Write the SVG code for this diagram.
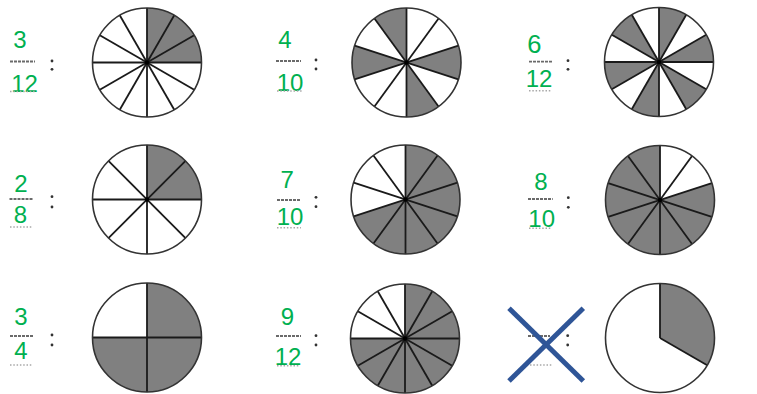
<svg xmlns="http://www.w3.org/2000/svg" xmlns:xlink="http://www.w3.org/1999/xlink" width="757" height="394" viewBox="0 0 757 394">
<style>
.num{font-family:"Liberation Sans",Arial,sans-serif;font-size:24px;fill:#00b050;text-anchor:middle}
.fl{stroke:#6a6a6a;stroke-width:1.8;stroke-dasharray:3 1;fill:none}
.dl{stroke:#a8a8a8;stroke-width:1.4;stroke-dasharray:1.5 1.8;fill:none}
.col{fill:#333}
.bg{fill:#fff}
.sh{fill:#808080}
.rad{stroke:#1a1a1a;stroke-width:1.8;fill:none}
.ring{fill:none;stroke:#333;stroke-width:1.6}
.x{stroke:#2f5597;stroke-width:5;fill:none}
</style>
<defs>
<path id="s30" d="M0,0V-54.5A54.5,54.5 0 0 1 27.25,-47.2Z"/>
<path id="s36" d="M0,0V-54.5A54.5,54.5 0 0 1 32.04,-44.09Z"/>
<path id="s45" d="M0,0V-54.5A54.5,54.5 0 0 1 38.54,-38.54Z"/>
<path id="s90" d="M0,0V-54.5A54.5,54.5 0 0 1 54.5,0Z"/>
<path id="s120" d="M0,0V-54.5A54.5,54.5 0 0 1 47.2,27.25Z"/>
<path id="dia" d="M0,-54.5V54.5"/>
<path id="r1" d="M0,0V-54.5"/>
<circle id="disk" r="54.5"/>
<circle id="hub" r="2.2"/>
</defs>
<rect width="757" height="394" fill="#fff"/>

<g id="cell-r1c1">
<text class="num" x="20" y="48.3">3</text>
<line class="fl" x1="10" y1="61.5" x2="35" y2="61.5"/>
<text class="num" x="24.5" y="91.7">12</text>
<line class="dl" x1="10" y1="91.5" x2="35" y2="91.5"/>
<circle class="col" cx="52" cy="61" r="1.4"/><circle class="col" cx="52" cy="69.3" r="1.4"/>
<g transform="translate(147,62.5)">
<use xlink:href="#disk" class="bg"/>
<use xlink:href="#s90" class="sh"/>
<use xlink:href="#dia" class="rad"/><use xlink:href="#dia" class="rad" transform="rotate(30)"/><use xlink:href="#dia" class="rad" transform="rotate(60)"/><use xlink:href="#dia" class="rad" transform="rotate(90)"/><use xlink:href="#dia" class="rad" transform="rotate(120)"/><use xlink:href="#dia" class="rad" transform="rotate(150)"/>
<use xlink:href="#disk" class="ring"/><use xlink:href="#hub" fill="#000"/>
</g>
</g>

<g id="cell-r1c2">
<text class="num" x="285" y="48">4</text>
<line class="fl" x1="276" y1="61" x2="301" y2="61"/>
<text class="num" x="290" y="91">10</text>
<line class="dl" x1="277" y1="91" x2="302" y2="91"/>
<circle class="col" cx="316" cy="60" r="1.4"/><circle class="col" cx="316" cy="69" r="1.4"/>
<g transform="translate(406.5,62.5)">
<use xlink:href="#disk" class="bg"/>
<use xlink:href="#s36" class="sh" transform="rotate(324)"/><use xlink:href="#s36" class="sh" transform="rotate(72)"/><use xlink:href="#s36" class="sh" transform="rotate(144)"/><use xlink:href="#s36" class="sh" transform="rotate(252)"/>
<use xlink:href="#dia" class="rad"/><use xlink:href="#dia" class="rad" transform="rotate(36)"/><use xlink:href="#dia" class="rad" transform="rotate(72)"/><use xlink:href="#dia" class="rad" transform="rotate(108)"/><use xlink:href="#dia" class="rad" transform="rotate(144)"/>
<use xlink:href="#disk" class="ring"/><use xlink:href="#hub" fill="#000"/>
</g>
</g>

<g id="cell-r1c3">
<text class="num" x="534.3" y="53.3" style="font-size:25.5px">6</text>
<line class="fl" x1="529" y1="61.7" x2="552" y2="61.7"/>
<text class="num" x="539" y="87.3">12</text>
<line class="dl" x1="529" y1="90.7" x2="552" y2="90.7"/>
<circle class="col" cx="568" cy="60.7" r="1.4"/><circle class="col" cx="568" cy="69.3" r="1.4"/>
<g transform="translate(659,62)">
<use xlink:href="#disk" class="bg"/>
<use xlink:href="#s30" class="sh"/><use xlink:href="#s30" class="sh" transform="rotate(60)"/><use xlink:href="#s30" class="sh" transform="rotate(120)"/><use xlink:href="#s30" class="sh" transform="rotate(180)"/><use xlink:href="#s30" class="sh" transform="rotate(240)"/><use xlink:href="#s30" class="sh" transform="rotate(300)"/>
<use xlink:href="#dia" class="rad"/><use xlink:href="#dia" class="rad" transform="rotate(30)"/><use xlink:href="#dia" class="rad" transform="rotate(60)"/><use xlink:href="#dia" class="rad" transform="rotate(90)"/><use xlink:href="#dia" class="rad" transform="rotate(120)"/><use xlink:href="#dia" class="rad" transform="rotate(150)"/>
<use xlink:href="#disk" class="ring"/><use xlink:href="#hub" fill="#000"/>
</g>
</g>

<g id="cell-r2c1">
<text class="num" x="21" y="191.7">2</text>
<line class="fl" x1="9.5" y1="199" x2="33.5" y2="199"/>
<text class="num" x="20.5" y="223.3">8</text>
<line class="dl" x1="10" y1="227" x2="33" y2="227"/>
<circle class="col" cx="52" cy="196.7" r="1.4"/><circle class="col" cx="52" cy="207" r="1.4"/>
<g transform="translate(147,199.5)">
<use xlink:href="#disk" class="bg"/>
<use xlink:href="#s90" class="sh"/>
<use xlink:href="#dia" class="rad"/><use xlink:href="#dia" class="rad" transform="rotate(45)"/><use xlink:href="#dia" class="rad" transform="rotate(90)"/><use xlink:href="#dia" class="rad" transform="rotate(135)"/>
<use xlink:href="#disk" class="ring"/><use xlink:href="#hub" fill="#000"/>
</g>
</g>

<g id="cell-r2c2">
<text class="num" x="287.3" y="188.3">7</text>
<line class="fl" x1="277" y1="200" x2="301" y2="200"/>
<text class="num" x="290" y="225">10</text>
<line class="dl" x1="277" y1="227.7" x2="301" y2="227.7"/>
<circle class="col" cx="316" cy="197.3" r="1.4"/><circle class="col" cx="316" cy="206.7" r="1.4"/>
<g transform="translate(405.5,199.5)">
<use xlink:href="#disk" class="sh"/>
<use xlink:href="#s36" class="bg" transform="rotate(252)"/><use xlink:href="#s36" class="bg" transform="rotate(288)"/><use xlink:href="#s36" class="bg" transform="rotate(324)"/>
<use xlink:href="#dia" class="rad"/><use xlink:href="#dia" class="rad" transform="rotate(36)"/><use xlink:href="#dia" class="rad" transform="rotate(72)"/><use xlink:href="#dia" class="rad" transform="rotate(108)"/><use xlink:href="#dia" class="rad" transform="rotate(144)"/>
<use xlink:href="#disk" class="ring"/><use xlink:href="#hub" fill="#000"/>
</g>
</g>

<g id="cell-r2c3">
<text class="num" x="541" y="190">8</text>
<line class="fl" x1="528" y1="199" x2="552.7" y2="199"/>
<text class="num" x="541.7" y="227.3">10</text>
<line class="dl" x1="529" y1="228.3" x2="552" y2="228.3"/>
<circle class="col" cx="568.3" cy="197.7" r="1.4"/><circle class="col" cx="568.3" cy="207.3" r="1.4"/>
<g transform="translate(660,200)">
<use xlink:href="#disk" class="sh"/>
<use xlink:href="#s36" class="bg"/><use xlink:href="#s36" class="bg" transform="rotate(36)"/>
<use xlink:href="#dia" class="rad"/><use xlink:href="#dia" class="rad" transform="rotate(36)"/><use xlink:href="#dia" class="rad" transform="rotate(72)"/><use xlink:href="#dia" class="rad" transform="rotate(108)"/><use xlink:href="#dia" class="rad" transform="rotate(144)"/>
<use xlink:href="#disk" class="ring"/><use xlink:href="#hub" fill="#000"/>
</g>
</g>

<g id="cell-r3c1">
<text class="num" x="21" y="325">3</text>
<line class="fl" x1="10" y1="336" x2="33" y2="336"/>
<text class="num" x="21" y="359">4</text>
<line class="dl" x1="10" y1="365" x2="33" y2="365"/>
<circle class="col" cx="52" cy="335" r="1.4"/><circle class="col" cx="52" cy="345" r="1.4"/>
<g transform="translate(147,337.5)">
<use xlink:href="#disk" class="sh"/>
<use xlink:href="#s90" class="bg" transform="rotate(270)"/>
<use xlink:href="#dia" class="rad"/><use xlink:href="#dia" class="rad" transform="rotate(90)"/>
<use xlink:href="#disk" class="ring"/>
</g>
</g>

<g id="cell-r3c2">
<text class="num" x="287.5" y="325">9</text>
<line class="fl" x1="276" y1="336" x2="301" y2="336"/>
<text class="num" x="288" y="365">12</text>
<line class="dl" x1="277" y1="365.7" x2="300" y2="365.7"/>
<circle class="col" cx="316" cy="335.7" r="1.4"/><circle class="col" cx="316" cy="345" r="1.4"/>
<g transform="translate(405,338.5)">
<use xlink:href="#disk" class="sh"/>
<use xlink:href="#s90" class="bg" transform="rotate(270)"/>
<use xlink:href="#dia" class="rad"/><use xlink:href="#dia" class="rad" transform="rotate(30)"/><use xlink:href="#dia" class="rad" transform="rotate(60)"/><use xlink:href="#dia" class="rad" transform="rotate(90)"/><use xlink:href="#dia" class="rad" transform="rotate(120)"/><use xlink:href="#dia" class="rad" transform="rotate(150)"/>
<use xlink:href="#disk" class="ring"/><use xlink:href="#hub" fill="#000"/>
</g>
</g>

<g id="cell-r3c3">
<line class="fl" x1="528" y1="336" x2="550" y2="336"/>
<line class="dl" x1="530" y1="365" x2="552" y2="365"/>
<circle class="col" cx="567.7" cy="335.7" r="1.4"/><circle class="col" cx="567.7" cy="345" r="1.4"/>
<line class="x" x1="509" y1="308.3" x2="583.3" y2="381"/>
<line class="x" x1="583.3" y1="308.3" x2="509" y2="381"/>
<g transform="translate(660,338)">
<use xlink:href="#disk" class="bg"/>
<use xlink:href="#s120" class="sh"/>
<use xlink:href="#r1" class="rad"/><use xlink:href="#r1" class="rad" transform="rotate(120)"/>
<use xlink:href="#disk" class="ring"/>
</g>
</g>
</svg>
